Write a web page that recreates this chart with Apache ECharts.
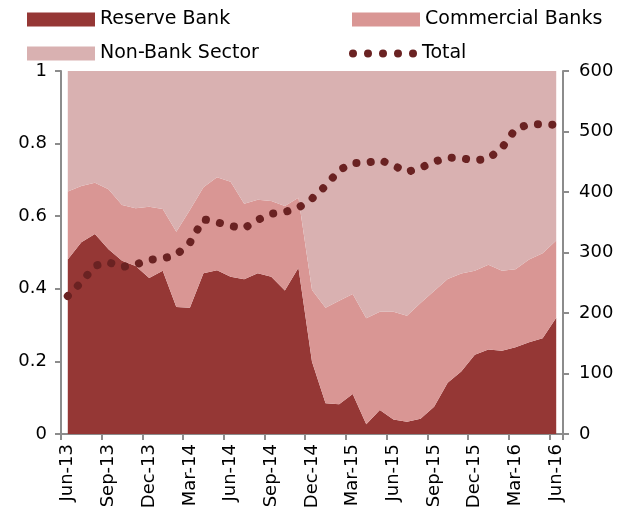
<!DOCTYPE html>
<html>
<head>
<meta charset="utf-8">
<script src="https://cdn.jsdelivr.net/npm/echarts@6/dist/echarts.min.js"></script>
<style>
  html, body { margin: 0; padding: 0; background: #fff; }
  #chart { width: 620px; height: 519px; }
</style>
</head>
<body>
<div id="chart"></div>
<script>
// 月份（Jun-13 到 Jun-16）
const months = ['Jun-13', 'Jul-13', 'Aug-13', 'Sep-13', 'Oct-13', 'Nov-13', 'Dec-13',
    'Jan-14', 'Feb-14', 'Mar-14', 'Apr-14', 'May-14', 'Jun-14', 'Jul-14', 'Aug-14', 'Sep-14', 'Oct-14', 'Nov-14', 'Dec-14',
    'Jan-15', 'Feb-15', 'Mar-15', 'Apr-15', 'May-15', 'Jun-15', 'Jul-15', 'Aug-15', 'Sep-15', 'Oct-15', 'Nov-15', 'Dec-15',
    'Jan-16', 'Feb-16', 'Mar-16', 'Apr-16', 'May-16', 'Jun-16'];

// 份额（左轴）
const reserveBank = [0.481, 0.528, 0.551, 0.509, 0.477, 0.463, 0.430, 0.450, 0.350, 0.348, 0.443, 0.451, 0.433,
    0.426, 0.443, 0.433, 0.395, 0.458, 0.199, 0.085, 0.082, 0.110, 0.027, 0.066, 0.040, 0.034, 0.042, 0.075,
    0.141, 0.172, 0.218, 0.233, 0.229, 0.239, 0.253, 0.264, 0.320];
const commercialBanks = [0.187, 0.155, 0.141, 0.165, 0.154, 0.159, 0.196, 0.170, 0.207, 0.269, 0.237, 0.256, 0.262,
    0.208, 0.202, 0.209, 0.233, 0.193, 0.198, 0.263, 0.285, 0.276, 0.292, 0.271, 0.297, 0.292, 0.319, 0.319,
    0.286, 0.270, 0.232, 0.233, 0.221, 0.215, 0.228, 0.234, 0.213];
const nonBankSector = [0.332, 0.317, 0.308, 0.326, 0.369, 0.378, 0.374, 0.380, 0.443, 0.383, 0.320, 0.293, 0.305,
    0.366, 0.355, 0.358, 0.372, 0.349, 0.603, 0.652, 0.633, 0.614, 0.681, 0.663, 0.663, 0.674, 0.639, 0.606,
    0.573, 0.558, 0.550, 0.534, 0.550, 0.546, 0.519, 0.502, 0.467];

// 总量（右轴）
const total = [228, 251, 278, 284, 276, 280, 288, 290, 296, 316, 355, 350, 344, 340, 354, 364, 367, 374, 389,
    410, 436, 448, 448, 453, 444, 433, 440, 450, 457, 456, 452, 455, 473, 504, 512, 512, 511];

const colors = {
    reserve: '#953735',
    commercial: '#d99694',
    nonBank: '#d9b1b1',
    total: '#6a2222',
    axis: '#8c8c8c'
};

const font = 'DejaVu Sans';

// 图例里的点线图标
let dotsPath = 'path://';
[4, 19, 34, 49, 64].forEach(cx => {
    dotsPath += `M${cx - 4},4 A4,4 0 1,0 ${cx + 4},4 A4,4 0 1,0 ${cx - 4},4 Z `;
});

function legendAt(name, left, top, icon, h) {
    return {
        data: [name],
        left: left,
        top: top,
        icon: icon,
        itemWidth: 68,
        itemHeight: h,
        selectedMode: false,
        textStyle: {fontFamily: font, fontSize: 19, color: '#000'}
    };
}

const chart = echarts.init(document.getElementById('chart'));

const axisLine = {show: true, lineStyle: {color: colors.axis, width: 2}};
const axisTick = {show: true, length: 6, lineStyle: {color: colors.axis, width: 2}};

const option = {
    animation: false,
    backgroundColor: '#fff',
    legend: [
        legendAt('Reserve Bank', 22, 5, 'rect', 14),
        legendAt('Commercial Banks', 347, 5, 'rect', 14),
        legendAt('Non-Bank Sector', 22, 39, 'rect', 14),
        legendAt('Total', 344, 39, dotsPath, 8)
    ],
    grid: {left: 61, right: 57, top: 71, bottom: 85},
    xAxis: {
        type: 'category',
        data: months,
        boundaryGap: true,
        axisLine: axisLine,
        axisTick: {show: true, length: 6, interval: 2, lineStyle: {color: colors.axis, width: 2}},
        axisLabel: {interval: 2, rotate: 90, margin: 10, fontFamily: font, fontSize: 18, color: '#000'}
    },
    yAxis: [{
        type: 'value',
        min: 0,
        max: 1,
        interval: 0.2,
        axisLine: axisLine,
        axisTick: axisTick,
        splitLine: {show: false},
        axisLabel: {margin: 14, fontFamily: font, fontSize: 18, color: '#000'}
    }, {
        type: 'value',
        min: 0,
        max: 600,
        interval: 100,
        position: 'right',
        axisLine: axisLine,
        axisTick: axisTick,
        splitLine: {show: false},
        axisLabel: {margin: 16, fontFamily: font, fontSize: 18, color: '#000'}
    }],
    series: [{
        name: 'Reserve Bank',
        type: 'line',
        stack: 'share',
        data: reserveBank,
        symbol: 'none',
        color: colors.reserve,
        lineStyle: {width: 0},
        areaStyle: {color: colors.reserve, opacity: 1}
    }, {
        name: 'Commercial Banks',
        type: 'line',
        stack: 'share',
        data: commercialBanks,
        symbol: 'none',
        color: colors.commercial,
        lineStyle: {width: 0},
        areaStyle: {color: colors.commercial, opacity: 1}
    }, {
        name: 'Non-Bank Sector',
        type: 'line',
        stack: 'share',
        data: nonBankSector,
        symbol: 'none',
        color: colors.nonBank,
        lineStyle: {width: 0},
        areaStyle: {color: colors.nonBank, opacity: 1}
    }, {
        name: 'Total',
        type: 'line',
        yAxisIndex: 1,
        data: total,
        symbol: 'none',
        z: 5,
        color: colors.total,
        lineStyle: {color: colors.total, width: 8, type: [0.1, 14.3], cap: 'round', join: 'round'}
    }]
};

chart.setOption(option);
</script>
</body>
</html>
